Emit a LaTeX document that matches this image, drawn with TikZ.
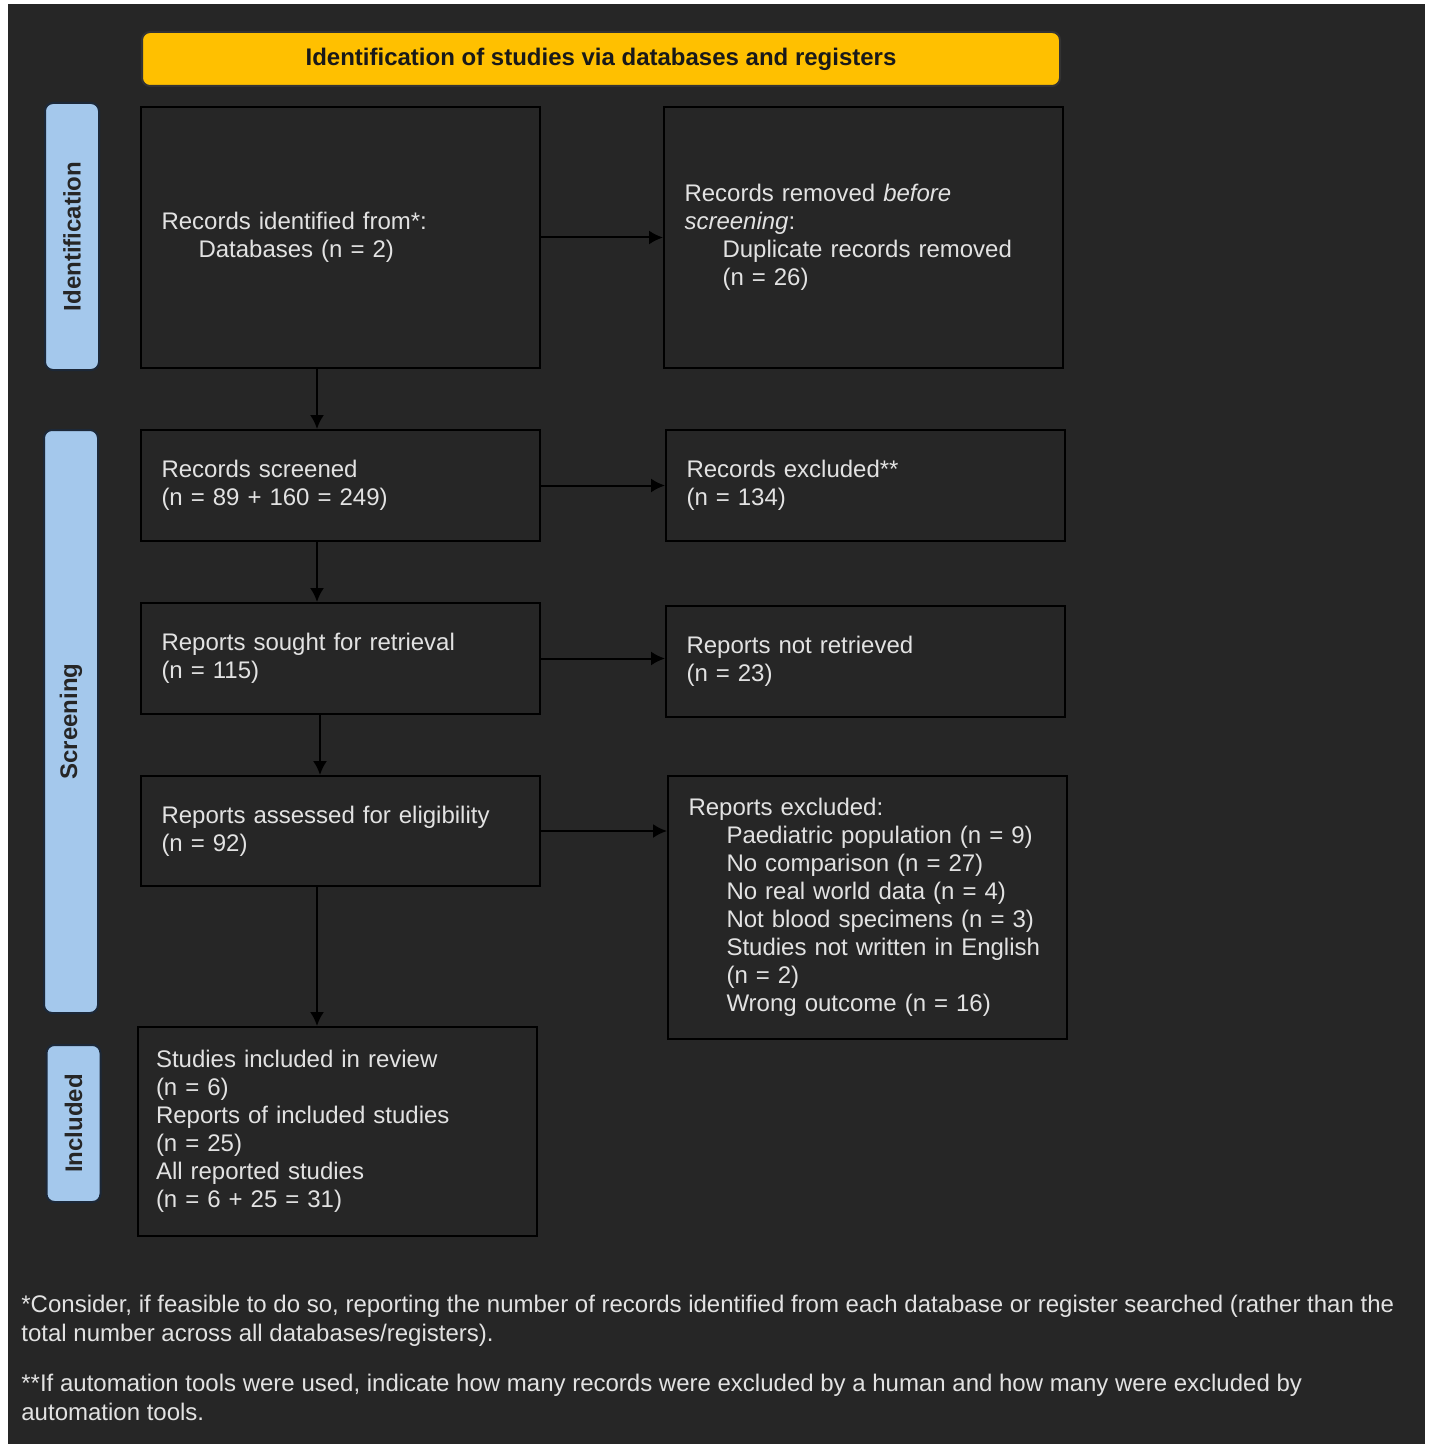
\documentclass[tikz,border=0pt]{standalone}
\usepackage{fontspec}
\setmainfont{Liberation Sans}
\usetikzlibrary{arrows.meta,calc}
\definecolor{bgdark}{HTML}{262626}
\definecolor{txtgray}{HTML}{E2E2E2}
\definecolor{hdryellow}{HTML}{FFC000}
\definecolor{sideblue}{HTML}{A4C8EC}
\definecolor{sideedge}{HTML}{1C2838}
\begin{document}
\begin{tikzpicture}[>={Latex[length=7pt,width=7pt]}, x=0.5pt, y=-0.5pt,
  box/.style={draw=black, line width=1pt, fill=bgdark, anchor=north west,
    inner xsep=10pt, inner ysep=4pt, align=left, text=txtgray,
    text width=179pt, minimum width=199.5pt,
    font=\fontsize{12}{14}\selectfont},
  side/.style={draw=sideedge, line width=1pt, fill=sideblue, rounded corners=4pt,
    rotate=90, minimum height=27pt, text=black!85,
    font=\fontsize{12}{14}\selectfont\bfseries},
  flow/.style={->, line width=1pt, black}]
  \def\ind{\hspace*{19pt}}
  % page and background
  \fill[white] (0,0) rectangle (1431,1444);
  \fill[bgdark] (8,4) rectangle (1425,1444);
  \useasboundingbox (0,0) rectangle (1431,1444);
  \coordinate (spine) at (317,0);
  \coordinate (spinetwo) at (320,0);

  % header
  \node[draw=black!80, line width=1pt, fill=hdryellow, rounded corners=4pt,
    minimum width=459pt, minimum height=27pt, text=black!90,
    font=\fontsize{12}{14}\selectfont\bfseries] (hdr) at (601,59)
    {Identification of studies via databases and registers};

  % phase labels
  \node[side, minimum width=133.5pt] (lid) at (72,236.5) {Identification};
  \node[side, minimum width=291.5pt] (lsc) at (71,721.5) {Screening};
  \node[side, minimum width=78.5pt] (lin) at (73.5,1123.5) {Included};

  % left column
  \node[box, minimum height=130.5pt] (rid) at (140,106)
    {Records identified from*:\\\hspace*{18.5pt}Databases (n = 2)};
  \node[box, minimum height=55.5pt] (rsc) at (140,429)
    {Records screened\\(n = 89 + 160 = 249)};
  \node[box, minimum height=55.5pt] (rso) at (140,602)
    {Reports sought for retrieval\\(n = 115)};
  \node[box, minimum height=55pt] (ras) at (140,775)
    {Reports assessed for eligibility\\(n = 92)};
  \node[box, minimum height=104.5pt, inner xsep=9pt, text width=181.5pt] (rin) at (137,1026)
    {Studies included in review\\(n = 6)\\Reports of included studies\\(n = 25)\\All reported studies\\(n = 6 + 25 = 31)};

  % right column
  \node[box, minimum height=130.5pt] (rrm) at (663,106)
    {Records removed \textit{before}\\\textit{screening}:\\\ind Duplicate records removed\\\ind (n = 26)};
  \node[box, minimum height=55.5pt] (rex) at (665,429)
    {Records excluded**\\(n = 134)};
  \node[box, minimum height=55.5pt] (rnr) at (665,605)
    {Reports not retrieved\\(n = 23)};
  \node[box, minimum height=131.5pt] (rexc) at (667,775)
    {Reports excluded:\\\ind Paediatric population (n = 9)\\\ind No comparison (n = 27)\\\ind No real world data (n = 4)\\\ind Not blood specimens (n = 3)\\\ind Studies not written in English\\\ind (n = 2)\\\ind Wrong outcome (n = 16)};

  % connectors
  \draw[flow] (rid.south -| spine) -- (rsc.north -| spine);
  \draw[flow] (rsc.south -| spine) -- (rso.north -| spine);
  \draw[flow] (rso.south -| spinetwo) -- (ras.north -| spinetwo);
  \draw[flow] (ras.south -| spine) -- (rin.north -| spine);
  \draw[flow] (rid.east) -- (rrm.west);
  \draw[flow] (rsc.east) -- (rsc.east -| rex.west);
  \draw[flow] (rso.east) -- (rso.east -| rnr.west);
  \draw[flow] (ras.east) -- (ras.east -| rexc.west);

  % footnotes
  \node[anchor=north west, inner sep=0pt, align=left, text=txtgray,
    font=\fontsize{12}{14.5}\selectfont] (fn) at (21,1295)
    {*Consider, if feasible to do so, reporting the number of records identified from each database or register searched (rather than the\\
     total number across all databases/registers).\\[10.5pt]
     **If automation tools were used, indicate how many records were excluded by a human and how many were excluded by\\
     automation tools.};
\end{tikzpicture}
\end{document}
